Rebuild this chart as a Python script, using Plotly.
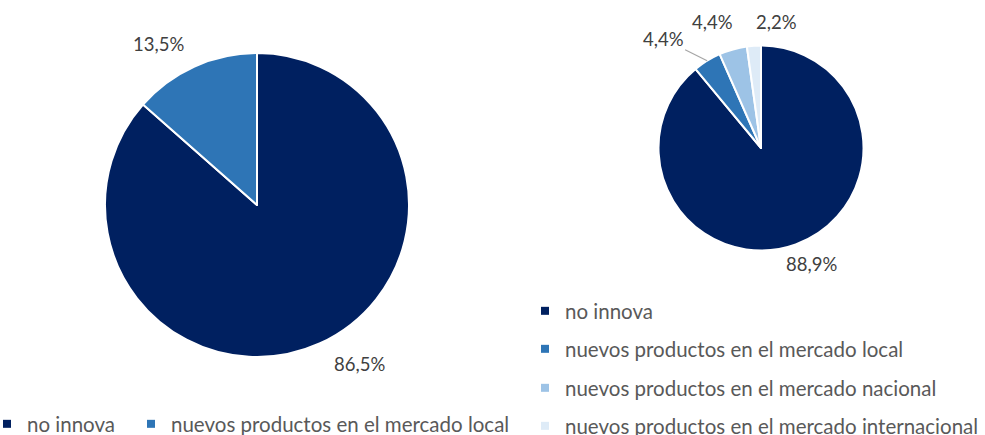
import math
import plotly.graph_objects as go

# ---------------- Data ----------------
left_labels = ["no innova", "nuevos productos en el mercado local"]
left_values = [86.5, 13.5]

right_labels = ["no innova", "nuevos productos en el mercado local",
                "nuevos productos en el mercado nacional",
                "nuevos productos en el mercado internacional"]
right_values = [88.9, 4.4, 4.4, 2.2]

# ---------------- Style ----------------
colors = ["#002060", "#2E75B6", "#9DC3E6", "#DEEBF7"]
W, H = 985, 435
FONT = "Lato, 'Open Sans', sans-serif"
LABEL_COLOR = "#404040"
LEGEND_COLOR = "#595959"

# pie geometry (pixels): centre x, centre y, radius
LEFT_PIE = (257, 205, 152)
RIGHT_PIE = (761, 148, 102.5)

# text offsets (px) of each data label from its slice's outer mid point
left_label_offsets = [(40, 20), (-36, -22)]
right_label_offsets = [(16, 20), (-44, -22), (-20, -27), (23, -24)]
right_leader = [False, True, False, False]

# legend layout (pixels): text start x, row centre y
left_legend_pos = [(28, 424), (172, 424)]
right_legend_pos = [(566, 311), (566, 349), (566, 388), (566, 426)]
LEGEND_TEXT_OFFSET = 41


def dom(cx, cy, r):
    return dict(x=[(cx - r) / W, (cx + r) / W], y=[(H - cy - r) / H, (H - cy + r) / H])


def fmt(v):
    return f"{v:.1f}".replace(".", ",") + "%"


fig = go.Figure()

for labels, values, geom in [(left_labels, left_values, LEFT_PIE),
                             (right_labels, right_values, RIGHT_PIE)]:
    fig.add_trace(go.Pie(
        labels=labels, values=values,
        marker=dict(colors=colors[:len(values)], line=dict(color="white", width=2)),
        sort=False, direction="clockwise", rotation=0,
        textinfo="none", showlegend=False,
        domain=dom(*geom), hoverinfo="label+value",
    ))

# data labels placed at slice mid-angles (derived from values)
annotations = []
for values, geom, offsets, leaders in [
        (left_values, LEFT_PIE, left_label_offsets, [False] * len(left_values)),
        (right_values, RIGHT_PIE, right_label_offsets, right_leader)]:
    cx, cy, r = geom
    total = sum(values)
    cum = 0.0
    for v, (dx, dy), lead in zip(values, offsets, leaders):
        mid = (cum + v / 2) / total * 2 * math.pi
        cum += v
        px = cx + r * math.sin(mid)
        py = cy - r * math.cos(mid)
        annotations.append(dict(
            x=px / W, y=1 - py / H, xref="paper", yref="paper",
            text=fmt(v), showarrow=True, ax=dx, ay=dy, axref="pixel", ayref="pixel",
            arrowhead=0, arrowwidth=1.2, standoff=0,
            arrowcolor="#A6A6A6" if lead else "rgba(0,0,0,0)",
            font=dict(family=FONT, size=18.5, color=LABEL_COLOR),
        ))

# legend entries (one legend per entry, for exact placement)
legend_layout = {}
entries = ([(lab, colors[i], left_legend_pos[i]) for i, lab in enumerate(left_labels)] +
           [(lab, colors[i], right_legend_pos[i]) for i, lab in enumerate(right_labels)])
for k, (lab, col, (tx, ty)) in enumerate(entries):
    lname = "legend" if k == 0 else f"legend{k + 1}"
    fig.add_trace(go.Scatter(
        x=[None], y=[None], mode="markers", name=lab,
        marker=dict(symbol="square", size=8, color=col),
        legend=lname, showlegend=True, hoverinfo="skip",
    ))
    legend_layout[lname] = dict(
        x=(tx - LEGEND_TEXT_OFFSET) / W, xanchor="left",
        y=1 - ty / H, yanchor="middle",
        orientation="v", bgcolor="rgba(0,0,0,0)", itemwidth=30,
        font=dict(family=FONT, size=20.5, color=LEGEND_COLOR),
    )

fig.update_layout(
    width=W, height=H,
    margin=dict(l=0, r=0, t=0, b=0, autoexpand=False),
    paper_bgcolor="white", plot_bgcolor="white",
    showlegend=True,
    xaxis=dict(visible=False), yaxis=dict(visible=False),
    annotations=annotations,
    **legend_layout,
)

fig.write_html("out.html", config={"displayModeBar": False},
               post_script="document.body.style.margin='0';")
